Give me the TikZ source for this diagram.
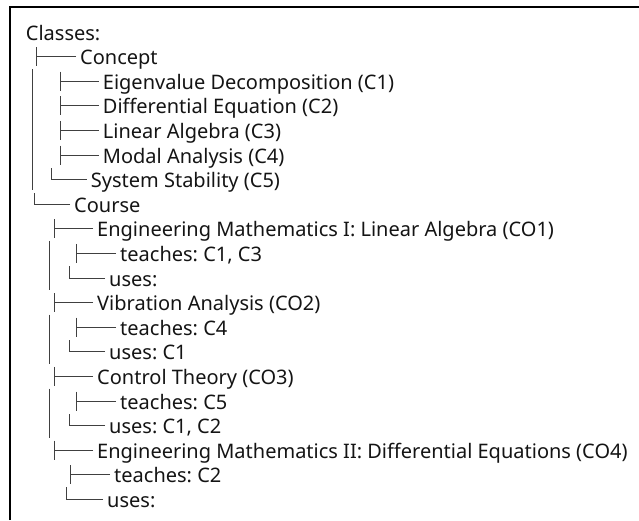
\documentclass[tikz,border=0pt]{standalone}
\usepackage{fontspec}
\setmainfont{Noto Sans}
\usepackage{tikz}
\frenchspacing

\begin{document}
\begin{tikzpicture}[x=1pt, y=1pt,
    item/.style={anchor=west, inner xsep=4pt, inner ysep=0pt, text height=16.2pt,
                 text depth=0pt, font=\fontsize{20}{24}\selectfont, text=black!92},
    tree/.style={line width=0.9pt, draw=black!75},
    boxline/.style={line width=1.2pt}]
  \useasboundingbox (0,0) rectangle (639,-520);
  \draw[boxline] (10,-520) -- (10,-7) -- (639,-7);

  % concepts
  \node[item] (classes) at (21.7,-32)  {Classes:};
  \node[item] (concept) at (76,-56.6)  {Concept};
  \node[item] (eig) at (98.7,-81.2)    {Eigenvalue Decomposition (C1)};
  \node[item] (deq) at (98.7,-105.8)   {Differential Equation (C2)};
  \node[item] (lin) at (98.7,-130.4)   {Linear Algebra (C3)};
  \node[item] (mod) at (98.7,-155)     {Modal Analysis (C4)};
  \node[item] (stab) at (86.7,-179.6)  {System Stability (C5)};

  % courses
  \node[item] (course) at (70,-204.2)  {Course};
  \node[item] (co1) at (93,-228.8)     {Engineering Mathematics I: Linear Algebra (CO1)};
  \node[item] (t1) at (116,-253.4)     {teaches: C1, C3};
  \node[item] (u1) at (105,-278)       {uses:};
  \node[item] (co2) at (93,-302.6)     {Vibration Analysis (CO2)};
  \node[item] (t2) at (116,-327.2)     {teaches: C4};
  \node[item] (u2) at (105,-351.8)     {uses: C1};
  \node[item] (co3) at (93,-376.4)     {Control Theory (CO3)};
  \node[item] (t3) at (116,-401)       {teaches: C5};
  \node[item] (u3) at (105,-425.6)     {uses: C1, C2};
  \node[item] (co4) at (93,-450.2)     {Engineering Mathematics II: Differential Equations (CO4)};
  \node[item] (t4) at (110,-474.8)     {teaches: C2};
  \node[item] (u4) at (103,-499.4)     {uses:};

  % branches
  \draw[tree] (concept.west) -- (concept.west -| 36.7,0) ++(0,9.5) -- ++(0,-19);
  \foreach \n in {eig,deq,lin,mod}
    \draw[tree] (\n.west) -- (\n.west -| 60,0) ++(0,9.5) -- ++(0,-19);
  \draw[tree] (stab.west) -- (stab.west -| 51.7,0) -- ++(0,12);
  \draw[tree] (32.7,-69) -- (32.7,-190);
  \draw[tree] (course.west) -- (course.west -| 34,0) -- ++(0,11);
  \foreach \n in {co1,co2,co3,co4}
    \draw[tree] (\n.west) -- (\n.west -| 54,0) ++(0,9.5) -- ++(0,-19);
  \foreach \t/\u in {t1/u1,t2/u2,t3/u3} {
    \draw[tree] (\t.west) -- (\t.west -| 76,0) ++(0,9.5) -- ++(0,-19);
    \draw[tree] (\u.west) -- (\u.west -| 69,0) -- ++(0,12);
    \draw[tree] ([yshift=12.5]\t.west -| 49.3,0) -- ([yshift=-12]\u.west -| 49.3,0);
  }
  \draw[tree] (t4.west) -- (t4.west -| 70,0) ++(0,9.5) -- ++(0,-19);
  \draw[tree] (u4.west) -- (u4.west -| 66.7,0) -- ++(0,12);
\end{tikzpicture}
\end{document}
